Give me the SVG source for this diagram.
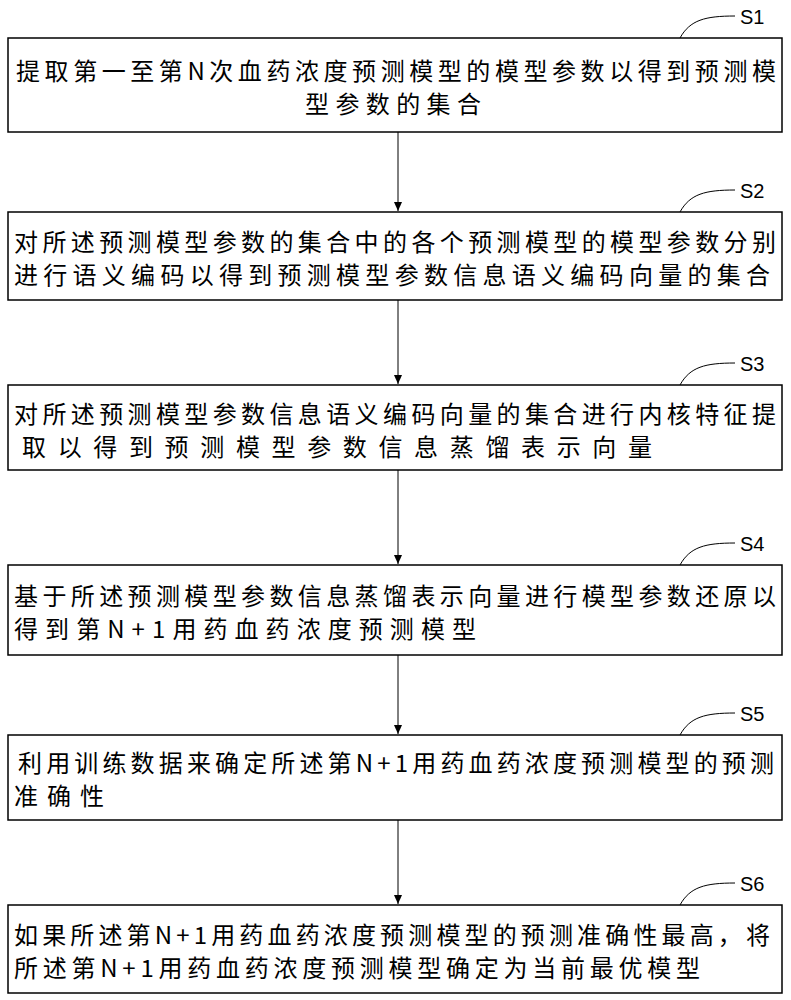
<svg xmlns="http://www.w3.org/2000/svg" width="791" height="1000" viewBox="0 0 791 1000">
<style>
.box{fill:#fff;stroke:#000;stroke-width:1.5}
.t{font-family:"Noto Sans CJK SC","Liberation Sans",sans-serif;font-size:24px;fill:#000}
.l{font-family:"Liberation Sans",sans-serif;font-size:20px;fill:#000}
.c{fill:none;stroke:#000;stroke-width:1}
</style>
<defs><marker id="a" markerWidth="10" markerHeight="10" refX="9" refY="5" orient="auto" markerUnits="userSpaceOnUse"><path d="M0,1 L9,5 L0,9 Z" fill="#000"/></marker></defs>
<rect width="791" height="1000" fill="#fff"/>
<g id="connectors">
<line class="c" x1="398" y1="132" x2="398" y2="211" marker-end="url(#a)"/>
<line class="c" x1="398" y1="300" x2="398" y2="384" marker-end="url(#a)"/>
<line class="c" x1="398" y1="470" x2="398" y2="564" marker-end="url(#a)"/>
<line class="c" x1="398" y1="655" x2="398" y2="734" marker-end="url(#a)"/>
<line class="c" x1="398" y1="820" x2="398" y2="904" marker-end="url(#a)"/>
<path class="c" d="M680,38 C690,20 705,16 735,16"/>
<path class="c" d="M680,212 C690,194 705,190 735,190"/>
<path class="c" d="M680,385 C690,367 705,363 735,363"/>
<path class="c" d="M680,565 C690,547 705,543 735,543"/>
<path class="c" d="M680,735 C690,717 705,713 735,713"/>
<path class="c" d="M680,905 C690,887 705,883 735,883"/>
</g>
<g id="n1"><rect class="box" x="8" y="38" width="774" height="94"/><text class="t" x="16" y="80" textLength="760" lengthAdjust="spacing">提取第一至第N次血药浓度预测模型的模型参数以得到预测模</text><text class="t" x="305" y="113" textLength="176" lengthAdjust="spacing">型参数的集合</text><text class="l" x="740" y="24">S1</text></g>
<g id="n2"><rect class="box" x="8" y="212" width="774" height="88"/><text class="t" x="14" y="251" textLength="762" lengthAdjust="spacing">对所述预测模型参数的集合中的各个预测模型的模型参数分别</text><text class="t" x="14" y="284" textLength="756" lengthAdjust="spacing">进行语义编码以得到预测模型参数信息语义编码向量的集合</text><text class="l" x="740" y="198">S2</text></g>
<g id="n3"><rect class="box" x="8" y="385" width="774" height="85"/><text class="t" x="14" y="423" textLength="762" lengthAdjust="spacing">对所述预测模型参数信息语义编码向量的集合进行内核特征提</text><text class="t" x="22" y="456" textLength="630" lengthAdjust="spacing">取以得到预测模型参数信息蒸馏表示向量</text><text class="l" x="740" y="371">S3</text></g>
<g id="n4"><rect class="box" x="8" y="565" width="774" height="90"/><text class="t" x="14" y="605" textLength="762" lengthAdjust="spacing">基于所述预测模型参数信息蒸馏表示向量进行模型参数还原以</text><text class="t" x="14" y="638" textLength="462" lengthAdjust="spacing">得到第N+1用药血药浓度预测模型</text><text class="l" x="740" y="551">S4</text></g>
<g id="n5"><rect class="box" x="8" y="735" width="774" height="85"/><text class="t" x="18" y="772" textLength="756" lengthAdjust="spacing">利用训练数据来确定所述第N+1用药血药浓度预测模型的预测</text><text class="t" x="14" y="805" textLength="90" lengthAdjust="spacing">准确性</text><text class="l" x="740" y="721">S5</text></g>
<g id="n6"><rect class="box" x="8" y="905" width="774" height="88"/><text class="t" x="14" y="944" textLength="756" lengthAdjust="spacing">如果所述第N+1用药血药浓度预测模型的预测准确性最高，将</text><text class="t" x="14" y="977" textLength="686" lengthAdjust="spacing">所述第N+1用药血药浓度预测模型确定为当前最优模型</text><text class="l" x="740" y="891">S6</text></g>
</svg>
